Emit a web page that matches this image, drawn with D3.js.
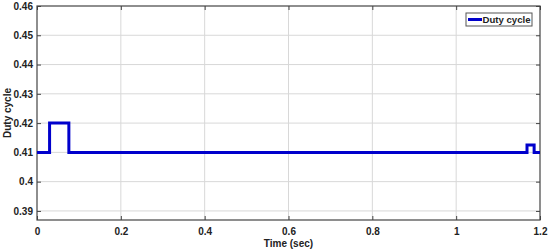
<!DOCTYPE html>
<html><head><meta charset="utf-8">
<script src="https://cdn.jsdelivr.net/npm/d3@7"></script>
<style>body{margin:0;background:#fff}svg{display:block}text{font-family:"Liberation Sans",Arial,sans-serif;font-weight:bold;fill:#222}</style>
</head><body><svg id="c" width="550" height="251"></svg>
<script>
const times = [0, 0.03, 0.03, 0.076, 0.076, 1.169, 1.169, 1.186, 1.186, 1.2];
const duty  = [0.41, 0.41, 0.42, 0.42, 0.41, 0.41, 0.4125, 0.4125, 0.41, 0.41];
const xTicks = [0, 0.2, 0.4, 0.6, 0.8, 1, 1.2];
const yTicks = [0.39, 0.4, 0.41, 0.42, 0.43, 0.44, 0.45, 0.46];
const seriesName = "Duty cycle";

const svg = d3.select("#c");
const L = 37, R = 540, T = 6, B = 220;
const x = d3.scaleLinear().domain([0, 1.2]).range([L, R]);
const y = d3.scaleLinear().domain([0.3869, 0.46]).range([B, T]);

// grid
svg.append("g").selectAll("line").data(xTicks.slice(1, -1)).join("line")
  .attr("x1", d => x(d)).attr("x2", d => x(d)).attr("y1", T).attr("y2", B)
  .attr("stroke", "#d8d8d8").attr("stroke-width", 1);
svg.append("g").selectAll("line").data(yTicks.slice(0, -1)).join("line")
  .attr("y1", d => y(d)).attr("y2", d => y(d)).attr("x1", L).attr("x2", R)
  .attr("stroke", "#d8d8d8").attr("stroke-width", 1);

// axes
const fmt = d => String(+d.toFixed(2));
svg.append("g").attr("transform", `translate(0,${B})`)
  .call(d3.axisBottom(x).tickValues(xTicks).tickFormat(fmt).tickSizeInner(-4).tickSizeOuter(0).tickPadding(8))
  .call(g => { g.select(".domain").remove(); g.selectAll("line").attr("stroke", "#444");
    g.selectAll("text").attr("font-size", 10).style("font-weight","bold"); });
svg.append("g").attr("transform", `translate(0,${T})`)
  .call(d3.axisTop(x).tickValues(xTicks).tickFormat("").tickSizeInner(-4).tickSizeOuter(0))
  .call(g => { g.select(".domain").remove(); g.selectAll("line").attr("stroke", "#444"); });
svg.append("g").attr("transform", `translate(${L},0)`)
  .call(d3.axisLeft(y).tickValues(yTicks).tickFormat(fmt).tickSizeInner(-4).tickSizeOuter(0).tickPadding(4))
  .call(g => { g.select(".domain").remove(); g.selectAll("line").attr("stroke", "#444");
    g.selectAll("text").attr("font-size", 10).style("font-weight","bold"); });
svg.append("g").attr("transform", `translate(${R},0)`)
  .call(d3.axisRight(y).tickValues(yTicks).tickFormat("").tickSizeInner(-4).tickSizeOuter(0))
  .call(g => { g.select(".domain").remove(); g.selectAll("line").attr("stroke", "#444"); });

// frame
svg.append("rect").attr("x", L).attr("y", T).attr("width", R - L).attr("height", B - T)
  .attr("fill", "none").attr("stroke", "#444").attr("stroke-width", 1.2);

// line
svg.append("path").datum(times.map((t, i) => [t, duty[i]]))
  .attr("d", d3.line().x(d => x(d[0])).y(d => y(d[1])))
  .attr("fill", "none").attr("stroke", "#0000cc").attr("stroke-width", 3);

// labels
svg.append("text").attr("x", x(0.6)).attr("y", 247).attr("text-anchor", "middle")
  .attr("font-size", 10).text("Time (sec)");
svg.append("text").attr("transform", `translate(7,113) rotate(-90)`)
  .attr("text-anchor", "middle").attr("dy", "0.35em").attr("font-size", 10).text("Duty cycle");

// legend
const lg = svg.append("g");
lg.append("rect").attr("x", 466).attr("y", 13).attr("width", 66).attr("height", 13)
  .attr("fill", "#fff").attr("stroke", "#555").attr("stroke-width", 1);
lg.append("line").attr("x1", 468).attr("x2", 482).attr("y1", 19.5).attr("y2", 19.5)
  .attr("stroke", "#0000cc").attr("stroke-width", 3);
lg.append("text").attr("x", 482.5).attr("y", 19.5).attr("dy", "0.35em").attr("font-size", 9.6).text(seriesName);
</script></body></html>
